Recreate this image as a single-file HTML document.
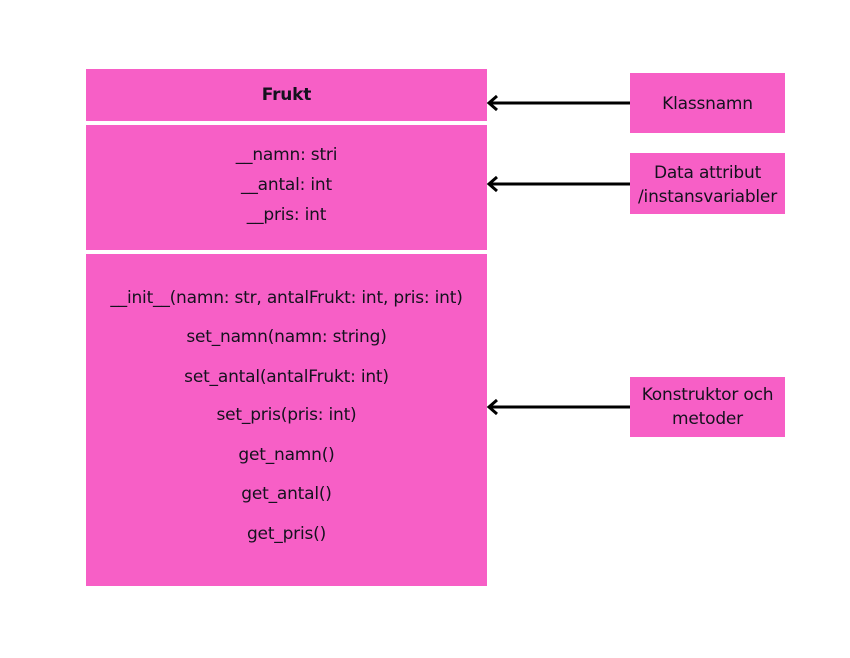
<!DOCTYPE html>
<html><head><style>
body{margin:0;width:850px;height:658px;background:#fff;position:relative;font-family:"DejaVu Sans",sans-serif;color:#14121e;}
.b{position:absolute;background:#f75fc6;}
.t{position:absolute;width:100%;text-align:center;font-size:17px;white-space:nowrap;letter-spacing:-0.2px;}
</style></head><body>
<div class="b" style="left:86px;top:69px;width:401px;height:52px;"><div class="t" style="top:16px;font-weight:bold;">Frukt</div></div>
<div class="b" style="left:86px;top:125px;width:401px;height:125px;">
<div class="t" style="top:20px;">__namn: stri</div>
<div class="t" style="top:50px;">__antal: int</div>
<div class="t" style="top:80px;">__pris: int</div>
</div>
<div class="b" style="left:86px;top:254px;width:401px;height:332px;">
<div class="t" style="top:34px;">__init__(namn: str, antalFrukt: int, pris: int)</div>
<div class="t" style="top:73px;">set_namn(namn: string)</div>
<div class="t" style="top:113px;">set_antal(antalFrukt: int)</div>
<div class="t" style="top:151px;">set_pris(pris: int)</div>
<div class="t" style="top:191px;">get_namn()</div>
<div class="t" style="top:230px;">get_antal()</div>
<div class="t" style="top:270px;">get_pris()</div>
</div>
<div class="b" style="left:630px;top:73px;width:155px;height:60px;"><div class="t" style="top:21px;">Klassnamn</div></div>
<div class="b" style="left:630px;top:153px;width:155px;height:61px;"><div class="t" style="top:8px;line-height:24px;">Data attribut<br>/instansvariabler</div></div>
<div class="b" style="left:630px;top:377px;width:155px;height:60px;"><div class="t" style="top:6px;line-height:24px;">Konstruktor och<br>metoder</div></div>
<svg width="850" height="658" style="position:absolute;left:0;top:0">
<g stroke="#000" stroke-width="3" fill="none">
<line x1="630" y1="103" x2="490" y2="103"/><polyline points="497,96 489,103 497,110"/>
<line x1="630" y1="184" x2="490" y2="184"/><polyline points="497,177 489,184 497,191"/>
<line x1="630" y1="407" x2="490" y2="407"/><polyline points="497,400 489,407 497,414"/>
</g></svg>
</body></html>
